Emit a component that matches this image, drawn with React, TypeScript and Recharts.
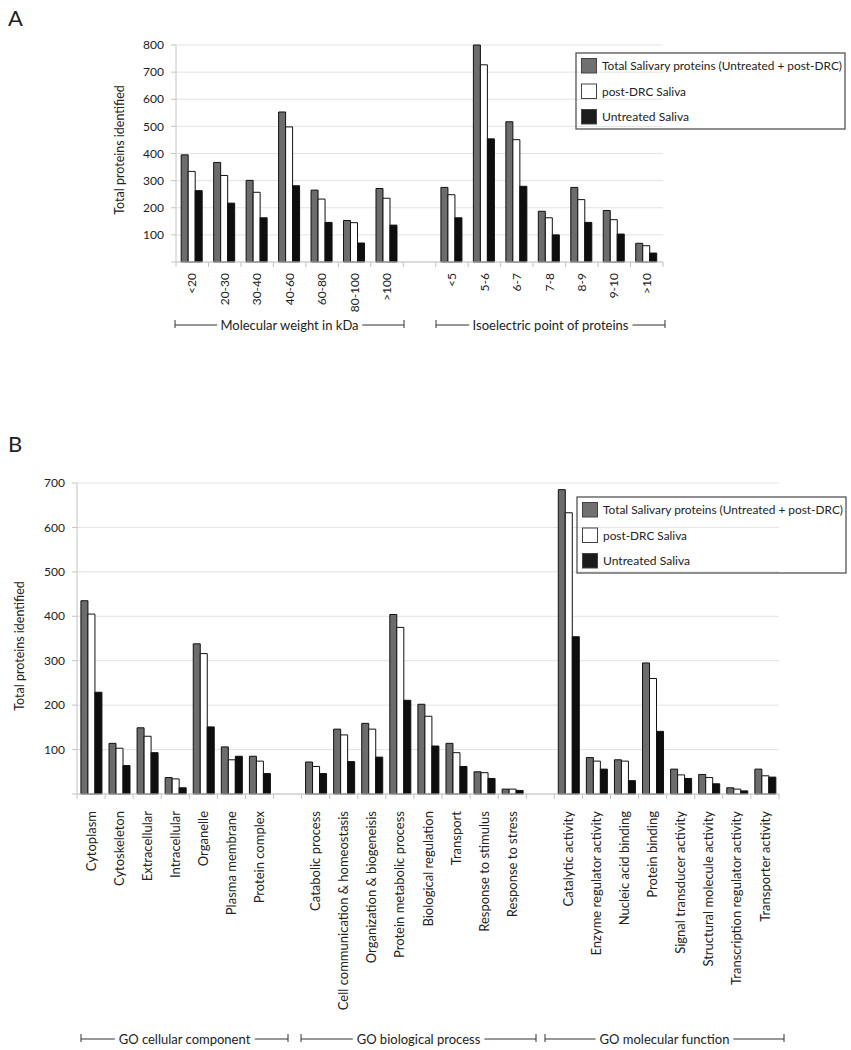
import React from 'react';
import { BarChart, Bar, XAxis, YAxis, CartesianGrid } from 'recharts';

const FONT = 'Lato, "Open Sans", sans-serif';
const TEXT = '#222';
const AXIS = '#c4c4c4';

// Series
const seriesKeys = ['total', 'post', 'untreated'];
const seriesNames = ['Total Salivary proteins (Untreated + post-DRC)', 'post-DRC Saliva', 'Untreated Saliva'];
const seriesFill = ['#6c6c6c', '#ffffff', '#0e0e0e'];
const swatchFill = ['#707070', '#ffffff', '#1c1c1c'];
const legendTextWidth = [240, 84, 87];

// Panel A: molecular weight (kDa)
const mwCategories = ['<20', '20-30', '30-40', '40-60', '60-80', '80-100', '>100'];
const mwTotal = [395, 367, 301, 553, 265, 153, 271];
const mwPost = [334, 319, 257, 498, 232, 145, 235];
const mwUntreated = [263, 217, 163, 281, 146, 70, 136];

// Panel A: isoelectric point
const piCategories = ['<5', '5-6', '6-7', '7-8', '8-9', '9-10', '>10'];
const piTotal = [275, 800, 517, 187, 275, 190, 69];
const piPost = [248, 727, 451, 163, 230, 156, 60];
const piUntreated = [163, 454, 279, 100, 146, 103, 33];

const aTicks = [0, 100, 200, 300, 400, 500, 600, 700, 800];

// Panel B: GO cellular component
const ccCategories = ['Cytoplasm', 'Cytoskeleton', 'Extracellular', 'Intracellular', 'Organelle', 'Plasma membrane', 'Protein complex'];
const ccTotal = [435, 114, 149, 37, 338, 106, 85];
const ccPost = [405, 103, 130, 34, 316, 77, 74];
const ccUntreated = [229, 64, 93, 14, 151, 85, 46];

// Panel B: GO biological process
const bpCategories = ['Catabolic process', 'Cell communication & homeostasis', 'Organization & biogeneisis', 'Protein metabolic process', 'Biological regulation', 'Transport', 'Response to stimulus', 'Response to stress'];
const bpTotal = [72, 146, 159, 404, 202, 114, 50, 11];
const bpPost = [62, 133, 146, 375, 175, 93, 48, 11];
const bpUntreated = [46, 73, 83, 211, 108, 62, 35, 8];

// Panel B: GO molecular function
const mfCategories = ['Catalytic activity', 'Enzyme regulator activity', 'Nucleic acid binding', 'Protein binding', 'Signal transducer activity', 'Structural molecule activity', 'Transcription regulator activity', 'Transporter activity'];
const mfTotal = [685, 82, 77, 295, 56, 44, 14, 56];
const mfPost = [633, 74, 74, 260, 43, 37, 11, 41];
const mfUntreated = [354, 56, 30, 141, 35, 23, 7, 38];

const bTicks = [0, 100, 200, 300, 400, 500, 600, 700];

type Row = { name: string; total: number | null; post: number | null; untreated: number | null };

const group = (cats: string[], t: number[], p: number[], u: number[]): Row[] =>
  cats.map((c, i) => ({ name: c, total: t[i], post: p[i], untreated: u[i] }));
const gap = (k: number): Row => ({ name: ' '.repeat(k), total: null, post: null, untreated: null });

const dataA: Row[] = [
  ...group(mwCategories, mwTotal, mwPost, mwUntreated),
  gap(1),
  ...group(piCategories, piTotal, piPost, piUntreated),
];

const dataB: Row[] = [
  ...group(ccCategories, ccTotal, ccPost, ccUntreated),
  gap(1),
  ...group(bpCategories, bpTotal, bpPost, bpUntreated),
  gap(2),
  ...group(mfCategories, mfTotal, mfPost, mfUntreated),
];

const W = 851;
// Panel A layout
const A_LEFT = 176;
const A_RIGHT = 188;
const A_TOP = 45;
const A_H = 330;
const A_XH = 68;
const BAND_A = (W - A_LEFT - A_RIGHT) / dataA.length;

// Panel B layout
const B_Y = 440;
const B_LEFT = 77;
const B_RIGHT = 72;
const B_TOP = 43;
const B_H = 580;
const B_XH = 226;
const BAND_B = (W - B_LEFT - B_RIGHT) / dataB.length;

const makeTick = (band: number, count: number, fontSize: number, offset: number) => (props: any) => {
  const { x, y, payload, index } = props;
  const left = x - band / 2;
  const right = x + band / 2;
  const ty = y + offset;
  return (
    <g>
      <line x1={left} y1={y} x2={left} y2={y + 5} stroke={AXIS} strokeWidth={1} />
      {index === count - 1 && <line x1={right} y1={y} x2={right} y2={y + 5} stroke={AXIS} strokeWidth={1} />}
      <text
        x={x}
        y={ty}
        transform={`rotate(-90, ${x}, ${ty})`}
        textAnchor="end"
        dy="0.35em"
        fontSize={fontSize}
        fill={TEXT}
        fontFamily={FONT}
      >
        {String(payload.value).trim()}
      </text>
    </g>
  );
};

const yTick = (props: any) => {
  const { x, y, payload } = props;
  if (payload.value === 0) return <g />;
  return (
    <text x={x} y={y} dy="0.35em" textAnchor="end" fontSize={12} fill={TEXT} fontFamily={FONT}>
      {payload.value}
    </text>
  );
};

const bars = (cat: string) =>
  seriesKeys.map((k, i) => (
    <Bar
      key={cat + k}
      dataKey={k}
      name={seriesNames[i]}
      fill={seriesFill[i]}
      stroke="#111"
      strokeWidth={1}
      isAnimationActive={false}
    />
  ));

const Legend = ({ x, y }: { x: number; y: number }) => (
  <g>
    <rect x={x} y={y} width={269} height={76} fill="none" stroke="#555" strokeWidth={1.3} />
    {seriesNames.map((n, i) => (
      <g key={n}>
        <rect x={x + 5.5} y={y + 5.5 + i * 25.5} width={15} height={14.5} fill={swatchFill[i]} stroke="#444" strokeWidth={1} />
        <text
          x={x + 26}
          y={y + 13 + i * 25.5}
          dy="0.35em"
          fontSize={11.5}
          fill={TEXT}
          fontFamily={FONT}
          textLength={legendTextWidth[i]}
          lengthAdjust="spacingAndGlyphs"
        >
          {n}
        </text>
      </g>
    ))}
  </g>
);

const Bracket = ({ x1, x2, y, label }: { x1: number; x2: number; y: number; label: string }) => (
  <g>
    <line x1={x1} y1={y} x2={x2} y2={y} stroke="#333" strokeWidth={1} />
    <line x1={x1} y1={y - 5} x2={x1} y2={y + 3} stroke="#333" strokeWidth={1} />
    <line x1={x2} y1={y - 5} x2={x2} y2={y + 3} stroke="#333" strokeWidth={1} />
    <text
      x={(x1 + x2) / 2}
      y={y}
      dy="0.35em"
      textAnchor="middle"
      fontSize={13}
      fill={TEXT}
      fontFamily={FONT}
      stroke="#fff"
      strokeWidth={9}
      paintOrder="stroke"
    >
      {label}
    </text>
  </g>
);

export default function App() {
  return (
    <div style={{ position: 'absolute', left: 0, top: 0, width: W, height: 1050, background: '#fff', fontFamily: FONT }}>
      <div style={{ position: 'absolute', left: 0, top: 0 }}>
        <BarChart
          width={W}
          height={A_H}
          data={dataA}
          margin={{ top: A_TOP, right: A_RIGHT, left: 0, bottom: 0 }}
          barCategoryGap="16%"
          barGap={0}
        >
          <CartesianGrid vertical={false} stroke="#e3e3e3" />
          <XAxis
            dataKey="name"
            interval={0}
            height={A_XH}
            tickSize={0}
            tickMargin={0}
            tickLine={false}
            axisLine={{ stroke: AXIS }}
            tick={makeTick(BAND_A, dataA.length, 12, 11)}
          />
          <YAxis
            width={A_LEFT}
            domain={[0, 800]}
            ticks={aTicks}
            interval={0}
            tickSize={5}
            tickMargin={7}
            axisLine={{ stroke: AXIS }}
            tickLine={{ stroke: AXIS }}
            tick={yTick}
          />
          {bars('a')}
        </BarChart>
      </div>
      <div style={{ position: 'absolute', left: 0, top: B_Y }}>
        <BarChart
          width={W}
          height={B_H}
          data={dataB}
          margin={{ top: B_TOP, right: B_RIGHT, left: 0, bottom: 0 }}
          barCategoryGap="14%"
          barGap={0}
        >
          <CartesianGrid vertical={false} stroke="#e3e3e3" />
          <XAxis
            dataKey="name"
            interval={0}
            height={B_XH}
            tickSize={0}
            tickMargin={0}
            tickLine={false}
            axisLine={{ stroke: AXIS }}
            tick={makeTick(BAND_B, dataB.length, 13, 17)}
          />
          <YAxis
            width={B_LEFT}
            domain={[0, 700]}
            ticks={bTicks}
            interval={0}
            tickSize={5}
            tickMargin={7}
            axisLine={{ stroke: AXIS }}
            tickLine={{ stroke: AXIS }}
            tick={yTick}
          />
          {bars('b')}
        </BarChart>
      </div>
      <svg width={W} height={1050} style={{ position: 'absolute', left: 0, top: 0, pointerEvents: 'none' }}>
        <text x={8} y={26} fontSize={22} fill={TEXT} fontFamily={FONT}>A</text>
        <text x={8} y={452} fontSize={22} fill={TEXT} fontFamily={FONT}>B</text>
        <text x={120} y={150} transform="rotate(-90, 120, 150)" textAnchor="middle" dy="0.35em" fontSize={12.5} fill={TEXT} fontFamily={FONT}>
          Total proteins identified
        </text>
        <text x={20} y={646} transform="rotate(-90, 20, 646)" textAnchor="middle" dy="0.35em" fontSize={12.5} fill={TEXT} fontFamily={FONT}>
          Total proteins identified
        </text>
        <Legend x={576} y={53} />
        <Legend x={577} y={497} />
        <Bracket x1={175} x2={404} y={325} label="Molecular weight in kDa" />
        <Bracket x1={436} x2={665} y={325} label="Isoelectric point of proteins" />
        <Bracket x1={81} x2={288} y={1039} label="GO cellular component" />
        <Bracket x1={301} x2={536} y={1039} label="GO biological process" />
        <Bracket x1={545} x2={784} y={1039} label="GO molecular function" />
      </svg>
    </div>
  );
}
